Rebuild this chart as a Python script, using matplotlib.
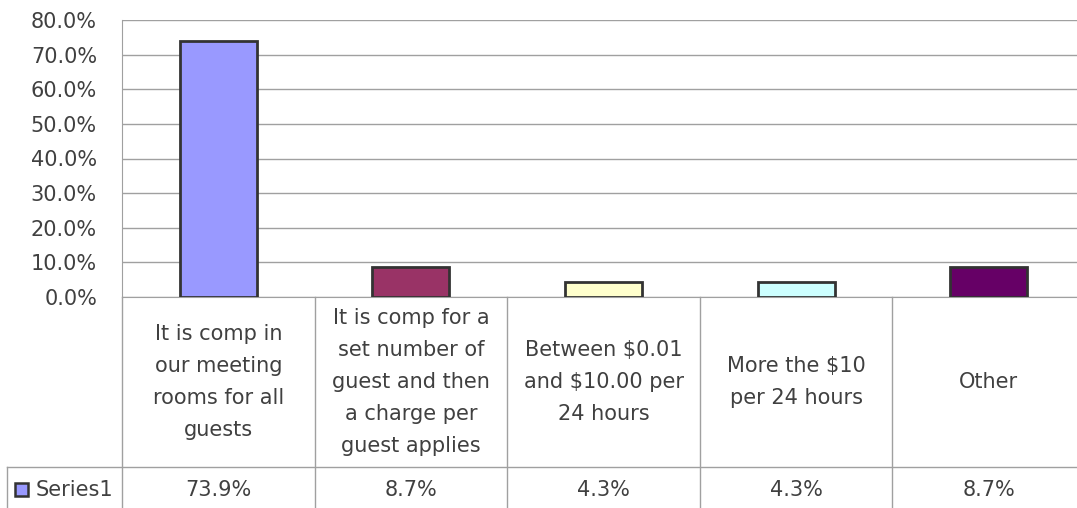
import numpy as np
import matplotlib.pyplot as plt
from matplotlib.patches import Rectangle

categories = ["It is comp in\nour meeting\nrooms for all\nguests",
              "It is comp for a\nset number of\nguest and then\na charge per\nguest applies",
              "Between $0.01\nand $10.00 per\n24 hours",
              "More the $10\nper 24 hours",
              "Other"]
values = [73.9, 8.7, 4.3, 4.3, 8.7]
colors = ["#9999FF", "#993366", "#FFFFCC", "#CCFFFF", "#660066"]
series_name = "Series1"
yticks = np.arange(0, 81, 10)

W, H = 1077, 508
txt = "#404040"
grid = "#a0a0a0"
fs = 15

plt.rcParams['font.family'] = ['DejaVu Sans']
fig = plt.figure(figsize=(W / 100, H / 100), dpi=100)

# plot area (right side runs off the picture, as in the original)
left, right, top, base = 122, 1085, 20, 297
ax = fig.add_axes([left / W, 1 - base / H, (right - left) / W, (base - top) / H])
x = np.arange(len(values)) + 0.5
ax.bar(x, values, width=0.4, color=colors, edgecolor="#333333", linewidth=2, zorder=3)
ax.set_xlim(0, len(values))
ax.set_ylim(0, 80)
ax.set_yticks(yticks)
ax.set_yticklabels(["%.1f%%" % v for v in yticks], fontsize=fs, color=txt)
ax.tick_params(axis='y', length=0, pad=18)
ax.tick_params(axis='x', length=0, labelbottom=False)
ax.yaxis.grid(True, color=grid, linewidth=1)
for s in ax.spines.values():
    s.set_visible(False)
ax.spines['left'].set_visible(True)
ax.spines['left'].set_color(grid)
ax.spines['bottom'].set_visible(True)
ax.spines['bottom'].set_color(grid)

# data table under the plot, drawn in pixel units
tab = fig.add_axes([0, 0, 1, (H - base) / H])
tab.set_xlim(0, W)
tab.set_ylim(H, base)
tab.axis('off')
cell = (right - left) / len(values)
row = 467
legl = 7
ink = dict(color=grid, linewidth=1, clip_on=False)
for i in range(len(values) + 1):
    tab.plot([left + i * cell] * 2, [base, H], **ink)
tab.plot([legl, right], [row, row], **ink)
tab.plot([legl, legl], [row, H], **ink)
for i, (c, v) in enumerate(zip(categories, values)):
    cx = left + (i + 0.5) * cell
    tab.text(cx, (base + row) / 2, c, ha='center', va='center',
             fontsize=fs, color=txt, linespacing=1.74)
    tab.text(cx, row + 23, "%.1f%%" % v, ha='center', va='center',
             fontsize=fs, color=txt)
tab.add_patch(Rectangle((15, row + 16), 13, 13, facecolor=colors[0],
                        edgecolor="#333333", linewidth=1.8, clip_on=False))
tab.text(36, row + 23, series_name, ha='left', va='center', fontsize=fs, color=txt)

fig.savefig("out.png", dpi=100)
